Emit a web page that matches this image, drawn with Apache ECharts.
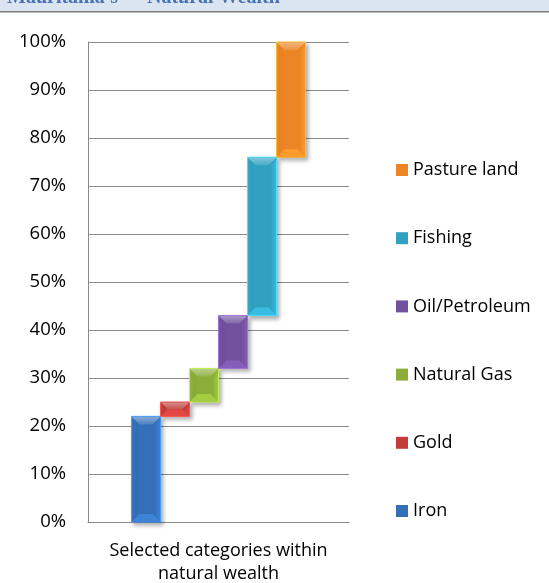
<!DOCTYPE html>
<html>
<head>
<meta charset="utf-8">
<script src="https://cdn.jsdelivr.net/npm/echarts@6/dist/echarts.min.js"></script>
<style>
  html, body { margin: 0; padding: 0; background: #fff; }
  #chart { width: 549px; height: 583px; }
</style>
</head>
<body>
<div id="chart"></div>
<script>
// Share of each resource within Mauritania's natural wealth (percent)
const categories = ['Selected categories within\nnatural wealth'];
const seriesNames = ['Iron', 'Gold', 'Natural Gas', 'Oil/Petroleum', 'Fishing', 'Pasture land'];
const shares = [22, 3, 7, 11, 33, 24];
const seriesColors = ['#3470b8', '#c03d3a', '#8bae3a', '#71509d', '#31a0c1', '#ec8526'];

const yMin = 0, yMax = 100, yStep = 10;
const barWidth = 29;
const font = '"Open Sans", sans-serif';
const gridColor = '#8a8a8a';
const titleFont = 'bold 20px "Liberation Serif", serif';
const titleColor = '#4a72b3';

const chart = echarts.init(document.getElementById('chart'), null, { renderer: 'canvas' });

// Each resource floats on top of the running total of the ones before it
function floatingBar(params, api) {
  const n = seriesNames.length;
  const idx = params.seriesIndex;
  const c = seriesColors[idx];
  const bottom = api.coord([api.value(0), api.value(1)]);
  const top = api.coord([api.value(0), api.value(2)]);
  const x0 = bottom[0] + (idx - (n - 1) / 2) * barWidth - barWidth / 2;
  const x1 = x0 + barWidth;
  const y0 = top[1], y1 = bottom[1];
  const h = y1 - y0;
  const b = Math.min(8, h / 2);
  const dark = echarts.color.lift(c, -0.4);
  const light = echarts.color.lift(c, 0.4);
  return {
    type: 'group',
    children: [
      {
        type: 'rect',
        shape: { x: x0, y: y0, width: barWidth, height: h },
        style: {
          fill: new echarts.graphic.LinearGradient(0, 0, 1, 0, [
            { offset: 0, color: echarts.color.lift(c, -0.12) },
            { offset: 0.2, color: c },
            { offset: 0.8, color: c },
            { offset: 1, color: echarts.color.lift(c, -0.22) }
          ]),
          stroke: dark,
          lineWidth: 1,
          shadowBlur: 4,
          shadowOffsetX: 2,
          shadowOffsetY: 3,
          shadowColor: 'rgba(0,0,0,0.3)'
        }
      },
      {
        type: 'polygon',
        shape: { points: [[x0 + 0.5, y0 + 0.5], [x1 - 0.5, y0 + 0.5], [x1 - b, y0 + b], [x0 + b, y0 + b]] },
        style: {
          fill: new echarts.graphic.LinearGradient(0, 0, 0, 1, [
            { offset: 0, color: light },
            { offset: 1, color: echarts.color.lift(c, 0.12) }
          ])
        }
      },
      {
        type: 'polygon',
        shape: { points: [[x0 + 0.5, y1 - 0.5], [x1 - 0.5, y1 - 0.5], [x1 - b, y1 - b], [x0 + b, y1 - b]] },
        style: { fill: echarts.color.lift(c, -0.18) }
      }
    ]
  };
}

let running = 0;
const series = seriesNames.map((name, i) => {
  const start = running;
  running += shares[i];
  return {
    type: 'custom',
    name: name,
    renderItem: floatingBar,
    itemStyle: { color: seriesColors[i] },
    encode: { x: 0, y: [1, 2] },
    data: [[0, start, running]]
  };
});

chart.setOption({
  animation: false,
  grid: { left: 88, right: 200, top: 42, bottom: 61, containLabel: false, outerBoundsMode: 'none' },
  xAxis: {
    type: 'category',
    data: categories,
    axisLine: { show: true, lineStyle: { color: gridColor, width: 1 } },
    axisTick: { show: false },
    axisLabel: { fontFamily: font, fontSize: 18, color: '#000', lineHeight: 23, margin: 17 }
  },
  yAxis: {
    type: 'value',
    min: yMin,
    max: yMax,
    interval: yStep,
    axisLine: { show: true, lineStyle: { color: gridColor, width: 1 } },
    axisTick: { show: false },
    splitLine: { lineStyle: { color: gridColor, width: 1 } },
    axisLabel: { formatter: '{value}%', fontFamily: font, fontSize: 18.5, color: '#000', margin: 22 }
  },
  legend: {
    orient: 'vertical',
    left: 391,
    top: 155,
    icon: 'rect',
    itemWidth: 12,
    itemHeight: 12,
    itemGap: 48.2,
    data: seriesNames.slice().reverse(),
    textStyle: { fontFamily: font, fontSize: 18, color: '#000', lineHeight: 20 }
  },
  graphic: [
    { type: 'rect', left: 0, top: 0, shape: { x: 0, y: 0, width: 549, height: 11 }, style: { fill: '#dbe5f1' }, z: 10 },
    { type: 'rect', left: 0, top: 11, shape: { x: 0, y: 0, width: 549, height: 1.5 }, style: { fill: '#7a7a7a' }, z: 11 },
    {
      type: 'text', x: 7, y: 8, z: 12,
      style: { text: "Mauritania's", font: titleFont, fill: titleColor, verticalAlign: 'bottom' }
    },
    {
      type: 'text', x: 137, y: 8, z: 12,
      style: { text: '\u201CNatural Wealth\u201D', font: titleFont, fill: titleColor, verticalAlign: 'bottom' }
    }
  ],
  series: series
});
</script>
</body>
</html>
